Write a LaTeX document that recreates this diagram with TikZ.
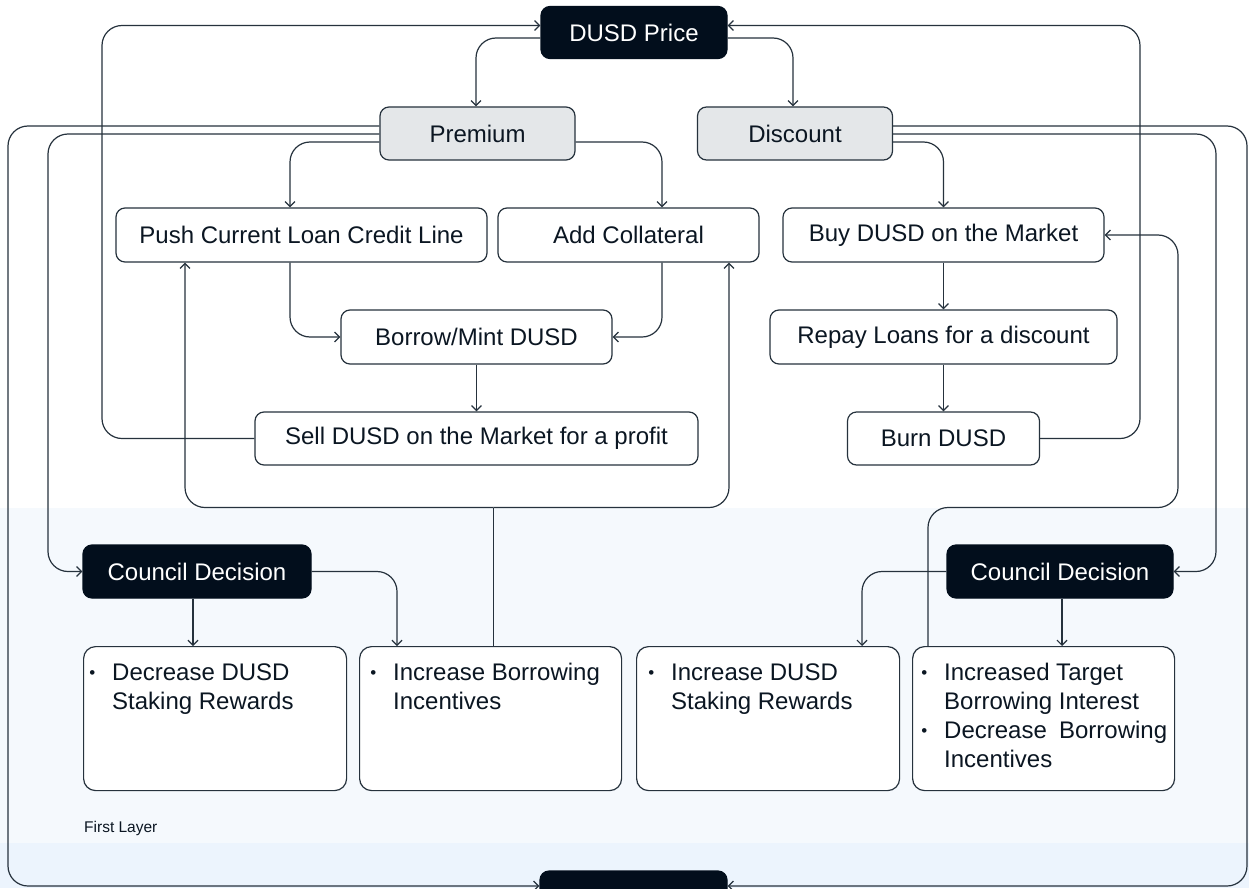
\documentclass[tikz,border=0pt]{standalone}
\usepackage{fontspec}
\setmainfont{Liberation Sans}
\usetikzlibrary{arrows.meta}
\definecolor{linec}{HTML}{26323D}
\definecolor{darkc}{HTML}{020E1C}
\definecolor{grayc}{HTML}{E4E7E9}
\definecolor{textc}{HTML}{0B1622}
\definecolor{bgone}{HTML}{F5F9FD}
\definecolor{bgtwo}{HTML}{ECF4FD}
\newcommand{\smallbul}{\hspace*{1.2pt}\raisebox{1.9pt}{\fontsize{17}{17}\selectfont •}}
\tikzset{
 box/.style={draw=linec, line width=1.2pt, rounded corners=9pt, fill=white, text=textc,
   font=\fontsize{24}{29}\selectfont, minimum height=54pt, inner sep=0pt},
 darkbox/.style={box, fill=darkc, draw=darkc, text=white},
 graybox/.style={box, fill=grayc},
 bulbox/.style={draw=linec, line width=1.2pt, rounded corners=12pt, fill=white,
   minimum width=263pt, minimum height=144pt, anchor=north west, inner sep=0pt},
 bultext/.style={anchor=north west, inner sep=0pt, text=textc, font=\fontsize{24}{29}\selectfont},
 conn/.style={draw=linec, line width=1.2pt, rounded corners=20pt, -{Straight Barb[length=5pt,width=10pt]}},
 plainline/.style={draw=linec, line width=1.2pt},
}
\begin{document}
\begin{tikzpicture}[x=1pt,y=-1pt]
\useasboundingbox (0,0) rectangle (1249,888);
% backgrounds
\fill[white] (0,0) rectangle (1249,508);
\fill[bgone] (0,508) rectangle (1249,843);
\fill[bgtwo] (0,843) rectangle (1249,888);

% nodes
\node[darkbox, minimum width=186pt, minimum height=52pt] (price) at (634,32.5) {DUSD Price};
\node[graybox, minimum width=195pt, minimum height=53pt] (premium) at (477.5,133.5) {Premium};
\node[graybox, minimum width=195pt, minimum height=53pt] (discount) at (795,133.5) {Discount};
\node[box, minimum width=371pt] (push) at (301.5,235) {Push Current Loan Credit Line};
\node[box, minimum width=261pt] (addcol) at (628.5,235) {Add Collateral};
\node[box, minimum width=321pt] (buy) at (943.5,235) {Buy DUSD on the Market};
\node[box, minimum width=271pt] (borrow) at (476.5,337) {Borrow/Mint DUSD};
\node[box, minimum width=347pt] (repay) at (943.5,337) {Repay Loans for a discount};
\node[box, minimum width=443pt, minimum height=53pt] (sell) at (476.5,438.5) {Sell DUSD on the Market for a profit};
\node[box, minimum width=192pt, minimum height=53pt] (burn) at (943.5,438.5) {Burn DUSD};
\node[darkbox, minimum width=228pt, minimum height=53pt] (cdl) at (197,571.5) {Council Decision};
\node[darkbox, minimum width=226pt, minimum height=53pt] (cdr) at (1060,571.5) {Council Decision};
\node[bulbox] (l1) at (83,646) {};
\node[bulbox, minimum width=262pt] (l2) at (359,646) {};
\node[bulbox] (r1) at (636,646) {};
\node[bulbox, minimum width=262pt] (r2) at (912,646) {};
\node[darkbox, minimum width=187pt, minimum height=50pt] (bottom) at (633.5,896) {};

\node[bultext] (l1t) at ([xshift=5pt,yshift=-14.3pt]l1.north west)
  {\begin{tabular}{@{}p{24pt}@{}l@{}}\smallbul&Decrease DUSD\\&Staking Rewards\end{tabular}};
\node[bultext] (l2t) at ([xshift=10pt,yshift=-14.3pt]l2.north west)
  {\begin{tabular}{@{}p{24pt}@{}l@{}}\smallbul&Increase Borrowing\\&Incentives\end{tabular}};
\node[bultext] (r1t) at ([xshift=11pt,yshift=-14.3pt]r1.north west)
  {\begin{tabular}{@{}p{24pt}@{}l@{}}\smallbul&Increase DUSD\\&Staking Rewards\end{tabular}};
\node[bultext] (r2t) at ([xshift=8pt,yshift=-14.3pt]r2.north west)
  {\begin{tabular}{@{}p{24pt}@{}l@{}}\smallbul&Increased Target\\&Borrowing Interest\\\smallbul&\makebox[223pt][s]{Decrease Borrowing}\\&Incentives\end{tabular}};

\node[anchor=west, inner sep=0pt, text=textc, font=\fontsize{15.5}{18}\selectfont] (layer) at (84,828) {First Layer};

% helper coordinates
\coordinate (t25) at (0,25.5);
\coordinate (t38) at (0,38);
\coordinate (t126) at (0,126);
\coordinate (t134) at (0,134);
\coordinate (t142) at (0,142);
\coordinate (t507) at (0,507.5);
\coordinate (t886) at (0,886);
\coordinate (x8) at (8,0);
\coordinate (x48) at (48,0);
\coordinate (x102) at (102,0);
\coordinate (x185) at (185,0);
\coordinate (x193) at (193,0);
\coordinate (x290) at (290,0);
\coordinate (x397) at (397,0);
\coordinate (x476) at (476,0);
\coordinate (x494) at (493.5,0);
\coordinate (x662) at (662,0);
\coordinate (x729) at (729,0);
\coordinate (x793) at (793,0);
\coordinate (x862) at (862,0);
\coordinate (x928) at (928,0);
\coordinate (x1062) at (1062,0);
\coordinate (x1140) at (1140,0);
\coordinate (x1178) at (1178,0);
\coordinate (x1216) at (1216,0);
\coordinate (x1247) at (1247,0);
\coordinate (jl) at (493.5,507.5);

% connectors
\draw[conn] (sell.west) -| (x102 |- t25) -- (price.west |- t25);
\draw[conn] (burn.east) -| (x1140 |- t25) -- (price.east |- t25);
\draw[conn] (price.west |- t38) -| (x476 |- premium.north);
\draw[conn] (price.east |- t38) -| (x793 |- discount.north);
\draw[conn] (premium.west |- t126) -| (x8 |- t886) -- (bottom.west |- t886);
\draw[conn] (premium.west |- t134) -| (x48 |- cdl.west) -- (cdl.west);
\draw[conn] (premium.west |- t142) -| (x290 |- push.north);
\draw[conn] (premium.east |- t142) -| (x662 |- addcol.north);
\draw[conn] (discount.east |- t126) -| (x1247 |- t886) -- (bottom.east |- t886);
\draw[conn] (discount.east |- t134) -| (x1216 |- cdr.east) -- (cdr.east);
\draw[conn] (discount.east |- t142) -| (buy.north);
\draw[conn] (x290 |- push.south) |- (borrow.west);
\draw[conn] (x662 |- addcol.south) |- (borrow.east);
\draw[conn] (borrow.south) -- (sell.north);
\draw[plainline] (x494 |- l2.north) -- (jl);
\draw[conn] (jl) -| (x185 |- push.south);
\draw[conn] (jl) -| (x729 |- addcol.south);
\draw[conn] (buy.south) -- (repay.north);
\draw[conn] (repay.south) -- (burn.north);
\draw[conn] (x928 |- r2.north) -- (x928 |- t507) -| (x1178 |- buy.east) -- (buy.east);
\draw[conn] (x193 |- cdl.south) -- (x193 |- l1.north);
\draw[conn] (cdl.east) -| (x397 |- l2.north);
\draw[conn] (cdr.west) -| (x862 |- r1.north);
\draw[conn] (x1062 |- cdr.south) -- (x1062 |- r2.north);
\end{tikzpicture}
\end{document}
